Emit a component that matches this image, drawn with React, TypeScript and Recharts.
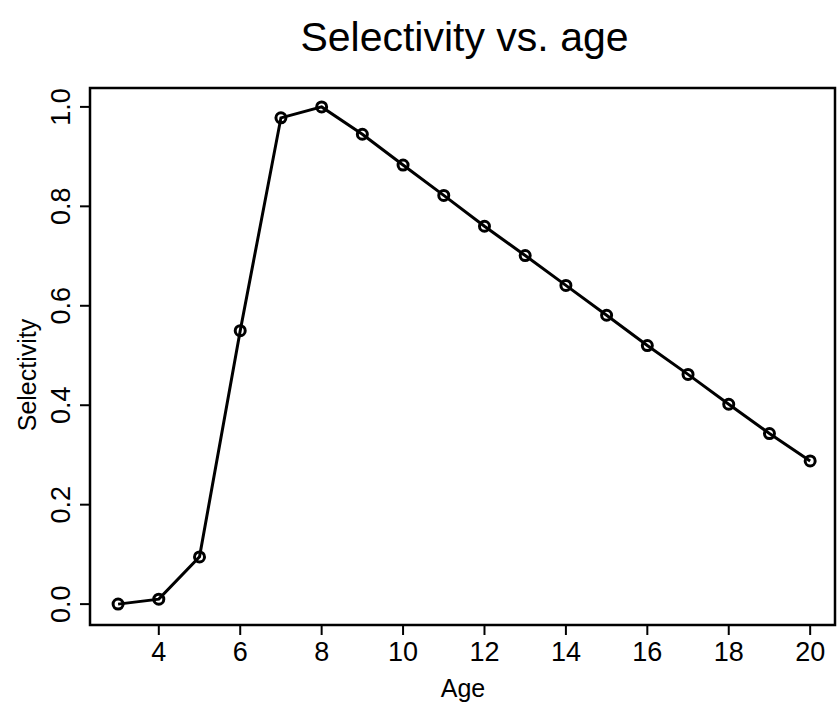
import { LineChart, Line, XAxis, YAxis, ReferenceArea } from "recharts"

const ages = [3, 4, 5, 6, 7, 8, 9, 10, 11, 12, 13, 14, 15, 16, 17, 18, 19, 20]
const selectivity = [0.0, 0.01, 0.095, 0.55, 0.978, 1.0, 0.945, 0.883, 0.822, 0.76, 0.701, 0.641, 0.581, 0.52, 0.462, 0.402, 0.343, 0.288]
const xTicks = [4, 6, 8, 10, 12, 14, 16, 18, 20]
const yTicks = [0, 0.2, 0.4, 0.6, 0.8, 1.0]

const data = ages.map((age, i) => ({ age, sel: selectivity[i] }))

const font = "Liberation Sans, Arial, sans-serif"

const XTick = (props: any) => {
  const { x, y, payload } = props
  return (
    <text x={x} y={y + 24} textAnchor="middle" fontSize={27} fontFamily={font} fill="#000">
      {payload.value}
    </text>
  )
}

const YTick = (props: any) => {
  const { x, y, payload } = props
  return (
    <text x={x - 8} y={y} transform={`rotate(-90 ${x - 8} ${y})`} textAnchor="middle" fontSize={27} fontFamily={font} fill="#000">
      {payload.value.toFixed(1)}
    </text>
  )
}

export default function App() {
  return (
    <div style={{ position: "absolute", left: 0, top: 0, width: 839, height: 722, background: "#fff", fontFamily: font }}>
      <div style={{ position: "absolute", top: 14, width: 839, textAlign: "center", fontSize: 41, paddingLeft: 90, boxSizing: "border-box" }}>
        Selectivity vs. age
      </div>
      <div style={{ position: "absolute", left: 0, top: 345, width: 50, height: 60 }}>
        <div style={{ position: "absolute", left: 27, top: 30, transform: "translate(-50%, -50%) rotate(-90deg)", fontSize: 25, whiteSpace: "nowrap" }}>
          Selectivity
        </div>
      </div>
      <div style={{ position: "absolute", top: 674, left: 418, width: 90, textAlign: "center", fontSize: 25 }}>Age</div>
      <LineChart width={839} height={722} data={data} margin={{ top: 88, right: 4, left: 0, bottom: 0 }}>
        <XAxis
          dataKey="age"
          type="number"
          domain={[2.31, 20.61]}
          ticks={xTicks}
          axisLine={false}
          tickLine={{ stroke: "#000", strokeWidth: 2 }}
          tickSize={10}
          height={97}
          tick={<XTick />}
        />
        <YAxis
          type="number"
          domain={[-0.042, 1.038]}
          ticks={yTicks}
          axisLine={false}
          tickLine={{ stroke: "#000", strokeWidth: 2 }}
          tickSize={10}
          width={90}
          tick={<YTick />}
        />
        <ReferenceArea x1={2.31} x2={20.61} y1={-0.042} y2={1.038} fill="none" stroke="#000" strokeWidth={2.5} ifOverflow="extendDomain" />
        <Line
          dataKey="sel"
          stroke="#000"
          strokeWidth={3}
          dot={{ r: 5, stroke: "#000", strokeWidth: 3, fill: "none" }}
          isAnimationActive={false}
        />
      </LineChart>
    </div>
  )
}
